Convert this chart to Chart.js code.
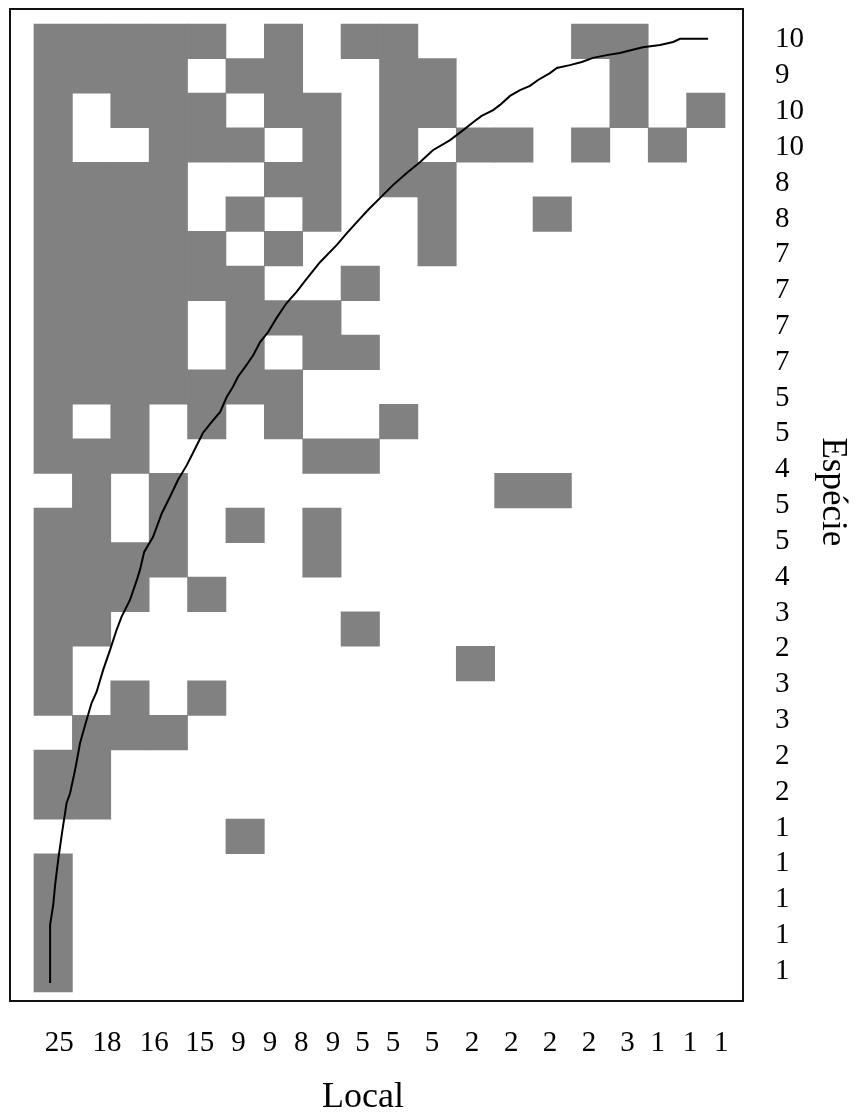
<!DOCTYPE html>
<html>
<head>
<meta charset="utf-8">
<script src="https://cdn.jsdelivr.net/npm/chart.js@4.4.1/dist/chart.umd.min.js"></script>
<style>
  html, body { margin: 0; padding: 0; background: #ffffff; }
  canvas { display: block; }
</style>
</head>
<body>
<canvas id="matrix" width="856" height="1113"></canvas>
<script>
// Presence (1) / absence (0) matrix: one row per species, one column per site
const presence = [
  [1,1,1,1,1,0,1,0,1,1,0,0,0,0,1,1,0,0],
  [1,1,1,1,0,1,1,0,0,1,1,0,0,0,0,1,0,0],
  [1,0,1,1,1,0,1,1,0,1,1,0,0,0,0,1,0,1],
  [1,0,0,1,1,1,0,1,0,1,0,1,1,0,1,0,1,0],
  [1,1,1,1,0,0,1,1,0,1,1,0,0,0,0,0,0,0],
  [1,1,1,1,0,1,0,1,0,0,1,0,0,1,0,0,0,0],
  [1,1,1,1,1,0,1,0,0,0,1,0,0,0,0,0,0,0],
  [1,1,1,1,1,1,0,0,1,0,0,0,0,0,0,0,0,0],
  [1,1,1,1,0,1,1,1,0,0,0,0,0,0,0,0,0,0],
  [1,1,1,1,0,1,0,1,1,0,0,0,0,0,0,0,0,0],
  [1,1,1,1,1,1,1,0,0,0,0,0,0,0,0,0,0,0],
  [1,0,1,0,1,0,1,0,0,1,0,0,0,0,0,0,0,0],
  [1,1,1,0,0,0,0,1,1,0,0,0,0,0,0,0,0,0],
  [0,1,0,1,0,0,0,0,0,0,0,0,1,1,0,0,0,0],
  [1,1,0,1,0,1,0,1,0,0,0,0,0,0,0,0,0,0],
  [1,1,1,1,0,0,0,1,0,0,0,0,0,0,0,0,0,0],
  [1,1,1,0,1,0,0,0,0,0,0,0,0,0,0,0,0,0],
  [1,1,0,0,0,0,0,0,1,0,0,0,0,0,0,0,0,0],
  [1,0,0,0,0,0,0,0,0,0,0,1,0,0,0,0,0,0],
  [1,0,1,0,1,0,0,0,0,0,0,0,0,0,0,0,0,0],
  [0,1,1,1,0,0,0,0,0,0,0,0,0,0,0,0,0,0],
  [1,1,0,0,0,0,0,0,0,0,0,0,0,0,0,0,0,0],
  [1,1,0,0,0,0,0,0,0,0,0,0,0,0,0,0,0,0],
  [0,0,0,0,0,1,0,0,0,0,0,0,0,0,0,0,0,0],
  [1,0,0,0,0,0,0,0,0,0,0,0,0,0,0,0,0,0],
  [1,0,0,0,0,0,0,0,0,0,0,0,0,0,0,0,0,0],
  [1,0,0,0,0,0,0,0,0,0,0,0,0,0,0,0,0,0],
  [1,0,0,0,0,0,0,0,0,0,0,0,0,0,0,0,0,0]
];

// Species count per site, printed under the matrix
const siteTotals = [25, 18, 16, 15, 9, 9, 8, 9, 5, 5, 5, 2, 2, 2, 2, 3, 1, 1, 1];
// Where each site count sits along the column axis
const siteTotalAt = [0.66, 1.90, 3.13, 4.32, 5.33, 6.15, 6.96, 7.79, 8.56, 9.35,
                     10.37, 11.41, 12.43, 13.44, 14.46, 15.46, 16.25, 17.09, 17.90];

// Number of sites occupied by each species, printed right of the matrix
const speciesTotals = [10, 9, 10, 10, 8, 8, 7, 7, 7, 7, 5, 5, 4, 5, 5, 4, 3, 2, 3, 3, 2, 2, 1, 1, 1, 1, 1];

// Extinction (isocline) curve, in column / row units of the matrix
const curveCol = [0.42,0.42,0.50,0.55,0.63,0.73,0.85,0.94,1.07,1.20,1.37,1.50,1.63,1.80,1.98,
  2.15,2.28,2.50,2.68,2.76,2.87,3.10,3.33,3.54,3.75,3.98,4.14,4.40,4.63,4.85,5.02,5.18,5.31,
  5.50,5.71,5.89,6.10,6.32,6.58,6.84,7.06,7.45,7.89,8.15,8.41,8.70,9.09,9.35,9.71,10.06,10.39,
  10.84,11.18,11.44,11.66,11.96,12.14,12.40,12.66,12.92,13.13,13.44,13.62,13.96,14.27,14.56,
  14.92,15.26,15.57,15.86,16.31,16.65,16.83,17.56];
const curveRow = [27.74,26.06,25.49,24.91,24.18,23.40,22.53,22.25,21.58,20.80,20.13,19.64,19.32,
  18.69,18.11,17.53,17.15,16.66,16.08,15.79,15.27,14.84,14.15,13.68,13.19,12.76,12.41,11.83,
  11.51,11.22,10.79,10.50,10.21,9.92,9.58,9.20,8.91,8.50,8.07,7.75,7.43,6.89,6.39,6.05,5.73,
  5.38,4.95,4.66,4.31,3.99,3.65,3.36,3.07,2.84,2.66,2.49,2.34,2.08,1.91,1.79,1.62,1.42,1.27,
  1.19,1.10,0.98,0.90,0.84,0.75,0.67,0.61,0.52,0.43,0.43];

// ---- build chart data ----
const nRows = presence.length;
const nCols = presence[0].length;

// each vertical run of present cells in a column becomes one floating bar
const cells = [];
for (let c = 0; c < nCols; c++) {
  let r = 0;
  while (r < nRows) {
    if (presence[r][c]) {
      const start = r;
      while (r < nRows && presence[r][c]) r++;
      cells.push({ x: c + 0.5, y: [start, r] });
    } else {
      r++;
    }
  }
}

const curve = curveCol.map((x, i) => ({ x, y: curveRow[i] }));

const serif = '"Liberation Serif", "Times New Roman", serif';

// column axis, with a little room left and right of the matrix inside the frame
const colMin = -0.625, colMax = nCols + 0.469;
// row axis, with a little room above and below
const rowMin = -0.434, rowMax = nRows + 0.26;
// axis carrying the species counts on the right
const countMin = -0.86, countMax = 26.83;

// frame drawn round the plotting area
const framePlugin = {
  id: 'frame',
  afterDatasetsDraw(chart) {
    const { ctx, chartArea: a } = chart;
    ctx.save();
    ctx.strokeStyle = '#111111';
    ctx.lineWidth = 2;
    ctx.strokeRect(a.left, a.top, a.right - a.left, a.bottom - a.top);
    ctx.restore();
  }
};

new Chart(document.getElementById('matrix'), {
  type: 'bar',
  data: {
    datasets: [
      {
        type: 'line',
        data: curve,
        xAxisID: 'x',
        yAxisID: 'y',
        borderColor: '#000000',
        borderWidth: 2,
        pointRadius: 0,
        tension: 0,
        order: 0
      },
      {
        type: 'bar',
        data: cells,
        xAxisID: 'x',
        yAxisID: 'y',
        backgroundColor: '#818181',
        borderWidth: 0,
        barPercentage: 1,
        categoryPercentage: 1,
        order: 1
      }
    ]
  },
  options: {
    responsive: false,
    animation: false,
    devicePixelRatio: 1,
    layout: { padding: { left: 10, top: 9, right: 0, bottom: 0 } },
    plugins: {
      legend: { display: false },
      tooltip: { enabled: false }
    },
    scales: {
      x: {
        type: 'linear',
        display: false,
        offset: false,
        min: colMin,
        max: colMax,
        afterBuildTicks: (s) => {
          s.ticks = Array.from({ length: nCols + 1 }, (_, i) => ({ value: i }));
        }
      },
      y: {
        type: 'linear',
        display: false,
        reverse: true,
        min: rowMin,
        max: rowMax
      },
      xs: {
        type: 'linear',
        axis: 'x',
        position: 'bottom',
        offset: false,
        min: colMin,
        max: colMax,
        afterBuildTicks: (s) => {
          s.ticks = siteTotalAt.map((v) => ({ value: v }));
        },
        afterFit: (s) => {
          s.height = 112;
          s.paddingLeft = 0;
          s.paddingRight = 0;
        },
        grid: { display: false, drawTicks: false },
        border: { display: false },
        ticks: {
          autoSkip: false,
          maxRotation: 0,
          minRotation: 0,
          padding: 25,
          color: '#000000',
          font: { family: serif, size: 29 },
          callback: (v, i) => String(siteTotals[i])
        },
        title: {
          display: true,
          text: 'Local   ',
          color: '#000000',
          font: { family: serif, size: 36, lineHeight: 1 },
          padding: { top: 0, bottom: -3 }
        }
      },
      yr: {
        type: 'linear',
        axis: 'y',
        position: 'right',
        reverse: true,
        min: countMin,
        max: countMax,
        afterBuildTicks: (s) => {
          s.ticks = speciesTotals.map((_, i) => ({ value: i }));
        },
        afterFit: (s) => {
          s.width = 113;
          s.paddingTop = 0;
          s.paddingBottom = 0;
        },
        grid: { display: false, drawTicks: false },
        border: { display: false },
        ticks: {
          autoSkip: false,
          padding: 32,
          color: '#000000',
          font: { family: serif, size: 29 },
          callback: (v, i) => String(speciesTotals[i])
        },
        title: {
          display: true,
          text: 'Espécie   ',
          color: '#000000',
          font: { family: serif, size: 35, lineHeight: 1 },
          padding: { top: 6, bottom: 0 }
        }
      }
    }
  },
  plugins: [framePlugin]
});
</script>
</body>
</html>
